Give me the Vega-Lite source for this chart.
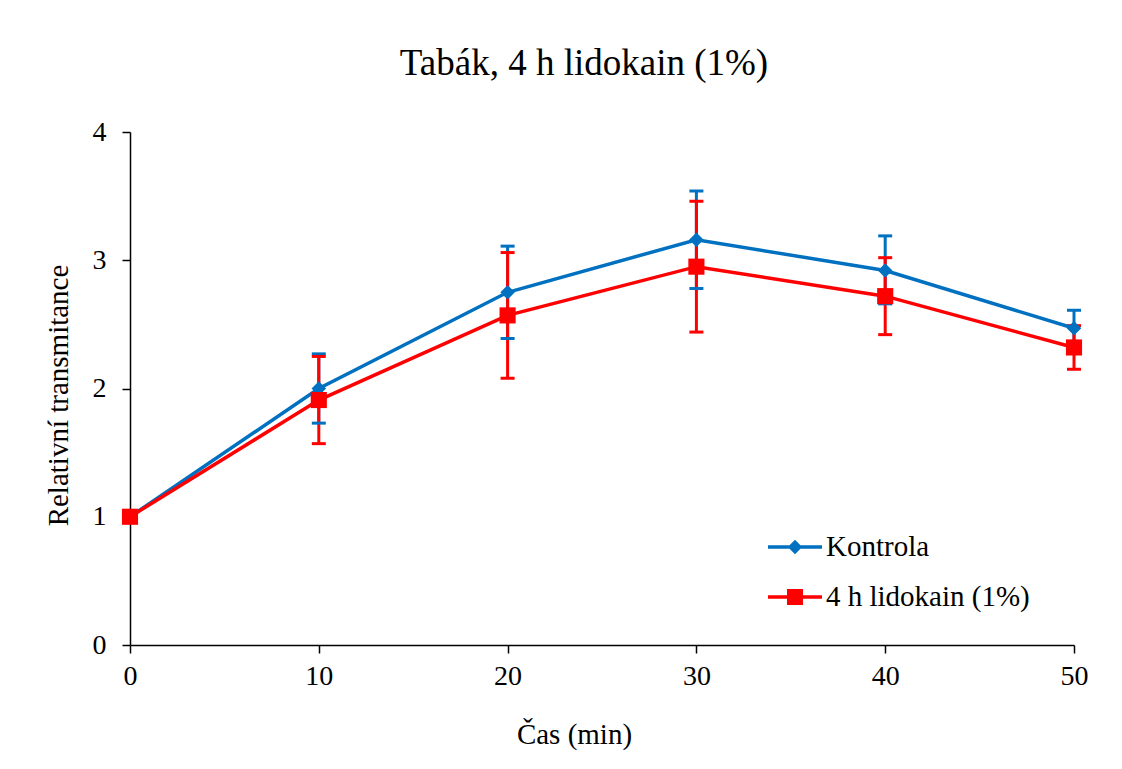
{
  "$schema": "https://vega.github.io/schema/vega-lite/v6.json",
  "autosize": {"type": "none"},
  "padding": {"left": 130, "top": 132, "right": 48, "bottom": 124},
  "width": 944,
  "height": 513,
  "background": "white",
  "title": {
    "text": "Tabák, 4 h lidokain (1%)",
    "font": "Liberation Serif",
    "fontSize": 37,
    "fontWeight": "normal",
    "color": "black",
    "anchor": "middle",
    "frame": "group",
    "baseline": "alphabetic",
    "dx": -18,
    "offset": 6
  },
  "data": {
    "values": [
      {"series": "Kontrola", "t": 0, "v": 1.0, "lo": null, "hi": null},
      {"series": "Kontrola", "t": 10, "v": 2.0, "lo": 1.73, "hi": 2.27},
      {"series": "Kontrola", "t": 20, "v": 2.75, "lo": 2.39, "hi": 3.11},
      {"series": "Kontrola", "t": 30, "v": 3.16, "lo": 2.78, "hi": 3.54},
      {"series": "Kontrola", "t": 40, "v": 2.92, "lo": 2.66, "hi": 3.19},
      {"series": "Kontrola", "t": 50, "v": 2.47, "lo": 2.33, "hi": 2.61},
      {"series": "4 h lidokain (1%)", "t": 0, "v": 1.0, "lo": null, "hi": null},
      {"series": "4 h lidokain (1%)", "t": 10, "v": 1.91, "lo": 1.57, "hi": 2.25},
      {"series": "4 h lidokain (1%)", "t": 20, "v": 2.57, "lo": 2.08, "hi": 3.06},
      {"series": "4 h lidokain (1%)", "t": 30, "v": 2.95, "lo": 2.44, "hi": 3.46},
      {"series": "4 h lidokain (1%)", "t": 40, "v": 2.72, "lo": 2.42, "hi": 3.02},
      {"series": "4 h lidokain (1%)", "t": 50, "v": 2.32, "lo": 2.15, "hi": 2.49}
    ]
  },
  "encoding": {
    "x": {
      "field": "t",
      "type": "quantitative",
      "scale": {"domain": [0, 50], "nice": false},
      "axis": {
        "title": "Čas (min)",
        "values": [0, 10, 20, 30, 40, 50],
        "format": "d",
        "labelFlush": false,
        "labelPadding": 9,
        "titleX": 444,
        "titleY": 98,
        "titleBaseline": "alphabetic",
        "titleAlign": "center"
      }
    },
    "color": {
      "field": "series",
      "type": "nominal",
      "scale": {"domain": ["Kontrola", "4 h lidokain (1%)"], "range": ["#0070C0", "#FF0000"]},
      "legend": {
        "orient": "none",
        "legendX": 645,
        "legendY": 395,
        "title": null,
        "padding": 0,
        "symbolSize": 1600,
        "symbolStrokeWidth": 0,
        "labelFont": "Liberation Serif",
        "labelFontSize": 29,
        "labelColor": "black",
        "labelOffset": 11,
        "labelLimit": 400,
        "rowPadding": 15,
        "encode": {
          "symbols": {
            "update": {
              "shape": {"signal": "datum.value === 'Kontrola' ? 'M-1.35,-0.09H1.35V0.09H-1.35Z M0,-0.36L0.36,0L0,0.36L-0.36,0Z' : 'M-1.35,-0.09H1.35V0.09H-1.35Z M-0.4,-0.4H0.4V0.4H-0.4Z'"},
              "fill": {"signal": "datum.value === 'Kontrola' ? '#0070C0' : '#FF0000'"},
              "fillOpacity": {"value": 1},
              "opacity": {"value": 1},
              "strokeWidth": {"value": 0}
            }
          }
        }
      }
    }
  },
  "layer": [
    {
      "mark": {"type": "rule", "strokeWidth": 3},
      "encoding": {
        "y": {"field": "lo", "type": "quantitative"},
        "y2": {"field": "hi"}
      }
    },
    {
      "mark": {"type": "tick", "size": 14, "thickness": 3, "orient": "horizontal", "opacity": 1},
      "encoding": {"y": {"field": "lo", "type": "quantitative"}}
    },
    {
      "mark": {"type": "tick", "size": 14, "thickness": 3, "orient": "horizontal", "opacity": 1},
      "encoding": {"y": {"field": "hi", "type": "quantitative"}}
    },
    {
      "mark": {"type": "line", "strokeWidth": 3.5},
      "encoding": {
        "y": {
          "field": "v",
          "type": "quantitative",
          "scale": {"domain": [0, 4], "nice": false},
          "axis": {
            "title": "Relativní transmitance",
            "values": [0, 1, 2, 3, 4],
            "format": "d",
            "labelFlush": false,
            "labelPadding": 16,
            "titleX": -63,
            "titleY": 263,
            "titleBaseline": "alphabetic",
            "titleAlign": "center",
            "titleAngle": -90
          }
        }
      }
    },
    {
      "transform": [{"filter": "datum.series === 'Kontrola'"}],
      "mark": {"type": "point", "filled": true, "opacity": 1, "shape": "diamond", "size": 210},
      "encoding": {"y": {"field": "v", "type": "quantitative"}}
    },
    {
      "transform": [{"filter": "datum.series !== 'Kontrola'"}],
      "mark": {"type": "point", "filled": true, "opacity": 1, "shape": "square", "size": 260},
      "encoding": {"y": {"field": "v", "type": "quantitative"}}
    }
  ],
  "config": {
    "view": {"stroke": null},
    "axis": {
      "grid": false,
      "domainColor": "black",
      "domainWidth": 1.5,
      "tickColor": "black",
      "tickWidth": 1.5,
      "tickSize": 8,
      "labelFont": "Liberation Serif",
      "labelFontSize": 28,
      "labelColor": "black",
      "titleFont": "Liberation Serif",
      "titleFontSize": 29,
      "titleFontWeight": "normal",
      "titleColor": "black"
    }
  }
}
